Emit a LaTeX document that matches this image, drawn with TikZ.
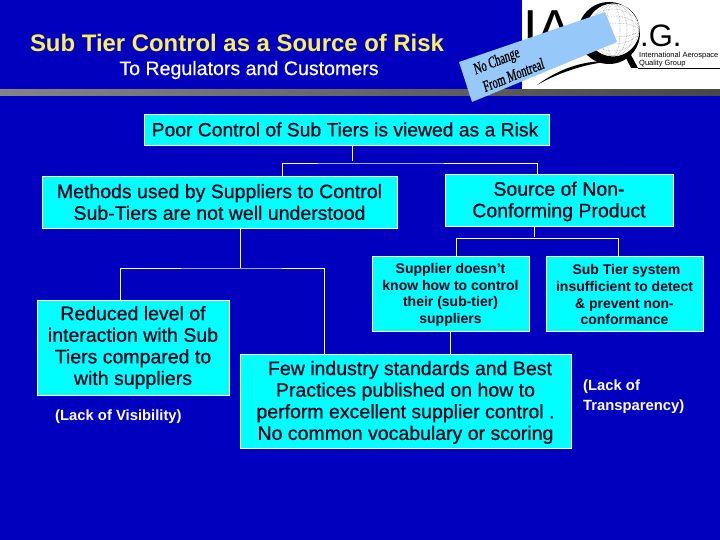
\documentclass[tikz,border=0pt]{standalone}
\usepackage{fontspec}
\setmainfont{Liberation Sans}
\newfontfamily\medfont[FakeBold=0.5]{Liberation Sans}
\newfontfamily\handfont[FakeBold=0.9,FakeSlant=0.15]{Liberation Serif}
\usepackage{tikz}
\usetikzlibrary{backgrounds,calc}
\definecolor{slideblue}{RGB}{0,0,190}
\definecolor{boxcyan}{RGB}{0,255,255}
\definecolor{titleyellow}{RGB}{250,240,90}
\definecolor{noteblue}{RGB}{150,200,250}
\newcommand{\lift}[1]{\rule{0pt}{#1}}
\tikzset{
  boxtext/.style={draw=white, line width=0.7pt, fill=boxcyan, inner sep=0pt, align=center, text=black!90!blue},
  bigtext/.style={boxtext, font=\medfont\fontsize{19.5}{21.6}\selectfont},
  smalltext/.style={boxtext, font=\bfseries\fontsize{14}{16.7}\selectfont},
  wire/.style={draw=white, line width=0.7pt},
  remark/.style={text=white, align=left, inner sep=0pt, font=\bfseries\fontsize{14.8}{20.5}\selectfont},
  hand/.style={rotate=22, inner sep=0pt, xscale=0.76, yscale=1.15, font=\handfont\fontsize{14}{14}\selectfont},
}
\begin{document}
\begin{tikzpicture}[x=1pt,y=-1pt]
\useasboundingbox (0,0) rectangle (720,540);
\fill[slideblue] (0,0) rectangle (720,540);
% logo
\fill[white] (522,0) rectangle (720,90);
\node[anchor=base, inner sep=0pt, font=\fontsize{52}{52}\selectfont] (logoi) at (531,47) {I};
\node[anchor=base, inner sep=0pt, font=\fontsize{52}{52}\selectfont] (logoa) at (555,47) {A};
\fill[black,even odd rule] (609,33) circle (31) (613,30) circle (26.5);
\foreach \r in {7,14,21} {
  \draw[gray!70, densely dotted, line width=0.6pt] (613,30) ellipse ({\r} and 26);
  \draw[gray!70, densely dotted, line width=0.6pt] (613,30) ellipse (26 and {\r});
}
\fill[black] (625,56) -- (631,55) -- (638,68) -- (631,68) -- cycle;
\node[anchor=base west, inner sep=0pt, font=\fontsize{31}{31}\selectfont] (logog) at (640,47) {.G.};
\node[anchor=north west, inner sep=0pt, align=left, font=\fontsize{7.5}{7.4}\selectfont] (logosub) at (639,52) {International Aerospace\\Quality Group};
\draw[black, line width=0.5pt] (638,68.5) -- (720,68.5);
\fill[black] (537,85) .. controls (560,68) and (585,60) .. (612,61) .. controls (585,64) and (560,72) .. (537,85) -- cycle;
% rule under the header
\shade[left color=black!48, right color=black!72] (0,90) rectangle (720,96);
\fill[noteblue] (459,62) -- (605,12) -- (617,42) -- (472,102) -- cycle;
\node[hand] (notea) at (496.5,62) {No Change};
\node[hand] (noteb) at (513,75) {From Montreal};
% heading
\node[text=titleyellow, inner sep=0pt, font=\bfseries\fontsize{23.9}{26}\selectfont] (headline) at (237,43) {Sub Tier Control as a Source of Risk};
\node[text=white, inner sep=0pt, font=\medfont\fontsize{19.6}{22}\selectfont] (subline) at (249,70) {To Regulators and Customers};
% tree boxes
\node[bigtext, minimum width=405pt, minimum height=31pt, font=\medfont\fontsize{19.3}{21.6}\selectfont] (rootbox) at (346.5,129.5) {\hspace{-3pt}Poor Control of Sub Tiers is viewed as a Risk};
\node[bigtext, minimum width=355pt, minimum height=52pt] (methodsbox) at (219.5,202) {Methods used by Suppliers to Control\\Sub-Tiers are not well understood};
\node[bigtext, minimum width=228pt, minimum height=52pt] (sourcebox) at (559,200) {\lift{17pt}Source of Non-\\Conforming Product};
\node[smalltext, minimum width=157pt, minimum height=75pt] (supplierbox) at (450.5,293.5) {\lift{13pt}Supplier doesn’t\\know how to control\\their (sub-tier)\\suppliers};
\node[smalltext, minimum width=157pt, minimum height=75pt] (systembox) at (624.5,293.5) {\lift{13pt}\hspace{4pt}Sub Tier system\\insufficient to detect\\\& prevent non-\\conformance};
\node[bigtext, minimum width=192pt, minimum height=95pt] (reducedbox) at (133,347.5) {Reduced level of\\interaction with Sub\\Tiers compared to\\with suppliers};
\node[bigtext, minimum width=331pt, minimum height=94pt] (fewbox) at (405.5,401) {\lift{17pt}\hspace{9pt}Few industry standards and Best\\Practices published on how to\\perform excellent supplier control .\\No common vocabulary or scoring};
\node[remark, anchor=north west] (visibility) at (55,410) {(Lack of Visibility)};
\node[remark, anchor=north west] (transparency) at (583,379.5) {(Lack of\\Transparency)};
% connectors
\coordinate (rootdrop) at (352,161);
\coordinate (rootbar) at (352,163);
\coordinate (methodsdrop) at (240,268);
\coordinate (sourcedrop) at (534,237);
\coordinate (sourcebar) at (534,238.5);
\draw[wire] (rootbox.south -| rootdrop) -- (rootdrop);
\draw[wire] (methodsbox.north -| 282,0) |- (rootbar) -| (sourcebox.north -| 537,0);
\draw[wire] (methodsbox.south -| methodsdrop) -- (methodsdrop);
\draw[wire] (reducedbox.north -| 120,0) |- (methodsdrop) -| (fewbox.north -| 324,0);
\draw[wire] (sourcebox.south -| sourcedrop) -- (sourcedrop);
\draw[wire] (supplierbox.north -| 456,0) |- (sourcebar) -| (systembox.north -| 618,0);
\draw[wire] (supplierbox.south -| 450,0) -- (fewbox.north -| 450,0);
\end{tikzpicture}
\end{document}
